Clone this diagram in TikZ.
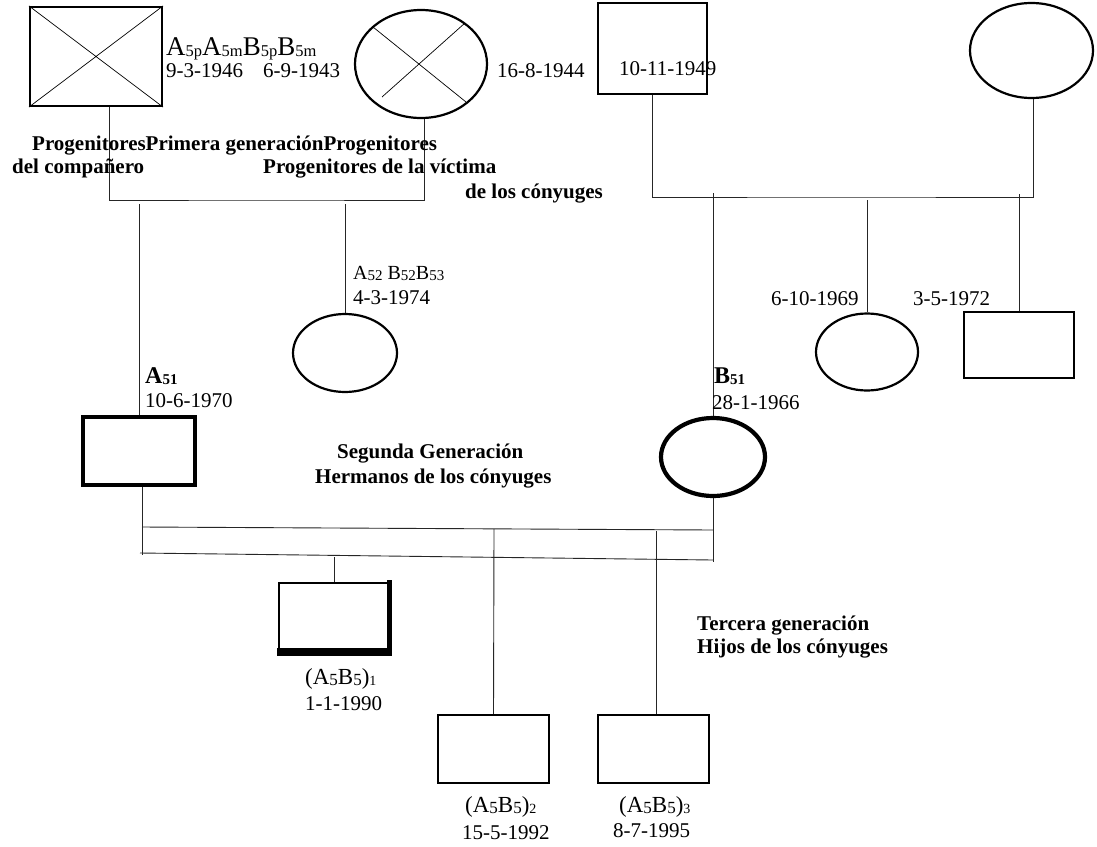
\documentclass[tikz,border=0pt]{standalone}
\usepackage{fontspec}
\setmainfont{Liberation Serif}
\usetikzlibrary{shapes.geometric}
\newcommand\sbx[2]{\raisebox{-1pt}{\fontsize{#1}{#1}\selectfont #2}}
\begin{document}
\begin{tikzpicture}[x=1pt,y=-1pt,
  box/.style={draw, rectangle, line width=2.2pt, inner sep=0pt},
  boxthick/.style={box, line width=4.2pt},
  oval/.style={draw, ellipse, line width=2.2pt, inner sep=0pt},
  ovalthick/.style={oval, line width=4.2pt},
  con/.style={line width=0.9pt, black!85},
  crs/.style={line width=0.7pt},
  lbl/.style={anchor=base west, inner sep=0pt, font=\fontsize{21}{24}\selectfont},
  blbl/.style={lbl, font=\fontsize{21}{24}\selectfont\bfseries}]
\useasboundingbox (0,0) rectangle (1097,846);
\fill[white] (0,0) rectangle (1097,846);

% ---- first generation ----
\node[box, minimum width=132pt, minimum height=99pt] (P1) at (96,56.5) {};
\draw[crs] (P1.north west) -- (P1.south east) (P1.north east) -- (P1.south west);
\node[oval, minimum width=132pt, minimum height=108pt] (P2) at (421,64) {};
\draw[crs, shift={(P2.center)}] (-48,-37) -- (45,38) (44,-41) -- (-39,33);
\node[box, minimum width=109pt, minimum height=91pt] (M3) at (652.5,48.5) {};
\node[oval, minimum width=123pt, minimum height=95pt] (F4) at (1031.5,50.5) {};

% ---- second generation ----
\node[oval, minimum width=104pt, minimum height=78pt] (A52) at (345,353) {};
\node[boxthick, minimum width=112pt, minimum height=68pt] (A51) at (139,451) {};
\node[ovalthick, minimum width=104pt, minimum height=78pt] (B51) at (713,457) {};
\node[oval, minimum width=102pt, minimum height=77pt] (S69) at (867,352) {};
\node[box, minimum width=110pt, minimum height=66pt] (S72) at (1019,345) {};

% ---- third generation ----
\node[box, minimum width=110pt, minimum height=70pt] (C1) at (334,618) {};
\fill[shift={(C1.center)}] (-57,30) rectangle (58,38);
\fill[shift={(C1.center)}] (53,-38) rectangle (58,38);
\node[box, minimum width=111pt, minimum height=68pt] (C2) at (493.5,749) {};
\node[box, minimum width=111pt, minimum height=68pt] (C3) at (653.5,749) {};

% ---- connectors ----
\coordinate (jL) at (266,200);
\draw[con] ([xshift=13pt]P1.south) |- (jL) -| ([xshift=3pt]P2.south);
\coordinate (jR) at (840,197);
\draw[con] (M3.south) |- (jR) -| ([xshift=1.5pt]F4.south);
\coordinate (tA51) at (139,204);
\coordinate (tA52) at (345,204);
\draw[con] (tA51) -- (A51.north);
\draw[con] (tA52) -- (A52.north);
\coordinate (tB51) at (713,193);
\coordinate (tS69) at (867,200);
\coordinate (tS72) at (1019,194);
\draw[con] (tB51) -- (B51.north);
\draw[con] (tS69) -- (S69.north);
\draw[con] (tS72) -- (S72.north);

\coordinate (cA) at (142,555);
\coordinate (cB) at (713,562);
\draw[con] ([xshift=3pt]A51.south) -- (cA);
\draw[con] (B51.south) -- (cB);
\coordinate (h1a) at (142,527);
\coordinate (h1b) at (713,530);
\coordinate (h2a) at (140,553);
\coordinate (h2b) at (713,560);
\draw[con] (h1a) -- (h1b);
\draw[con] (h2a) -- (h2b);
\coordinate (k1) at (334,557);
\coordinate (k2) at (494,529);
\coordinate (k3) at (656,531);
\draw[con] (k1) -- (C1.north);
\draw[con] (k2) -- (C2.north);
\draw[con] (k3) -- ([xshift=2.5pt]C3.north);

% ---- texts ----
\node[lbl] (tP) at (166,55) {\fontsize{27}{29}\selectfont A\sbx{16.5}{5p}A\sbx{16.5}{5m}B\sbx{16.5}{5p}B\sbx{16.5}{5m}};
\node[lbl] (d1) at (166,77) {9-3-1946};
\node[lbl] (d2) at (263,77) {6-9-1943};
\node[lbl] (d3) at (497,77) {16-8-1944};
\node[lbl] (d4) at (619,75) {10-11-1949};
\node[blbl] (g1a) at (32,150) {ProgenitoresPrimera generaciónProgenitores};
\node[blbl] (g1b) at (12,173) {del compañero};
\node[blbl] (g1c) at (263,173) {Progenitores de la víctima};
\node[blbl] (g1d) at (465,198) {de los cónyuges};

\node[lbl] (tA52l) at (353,279) {\fontsize{20}{24}\selectfont A\sbx{15}{52} B\sbx{15}{52}B\sbx{15}{53}};
\node[lbl] (d5) at (353,304) {4-3-1974};
\node[lbl] (d6) at (771,305) {6-10-1969};
\node[lbl] (d7) at (913,305) {3-5-1972};
\node[lbl] (tA51l) at (145,383) {\bfseries\fontsize{24}{26}\selectfont A\sbx{15}{\bfseries 51}};
\node[lbl] (d8) at (145,407) {10-6-1970};
\node[lbl] (tB51l) at (714,383) {\bfseries\fontsize{24}{26}\selectfont B\sbx{15}{\bfseries 51}};
\node[lbl] (d9) at (712,409) {28-1-1966};
\node[blbl] (g2a) at (337,458) {Segunda Generación};
\node[blbl] (g2b) at (315,483) {Hermanos de los cónyuges};

\node[lbl] (tC1) at (305,684) {\fontsize{23}{26}\selectfont (A\sbx{17}{5}B\sbx{17}{5})\sbx{14}{1}};
\node[lbl] (d10) at (305,710) {1-1-1990};
\node[blbl] (g3a) at (697,630) {Tercera generación};
\node[blbl] (g3b) at (697,653) {Hijos de los cónyuges};
\node[lbl] (tC2) at (465,812) {\fontsize{23}{26}\selectfont (A\sbx{17}{5}B\sbx{17}{5})\sbx{14}{2}};
\node[lbl] (d11) at (462,839) {15-5-1992};
\node[lbl] (tC3) at (619,812) {\fontsize{23}{26}\selectfont (A\sbx{17}{5}B\sbx{17}{5})\sbx{14}{3}};
\node[lbl] (d12) at (613,837) {8-7-1995};
\end{tikzpicture}
\end{document}
